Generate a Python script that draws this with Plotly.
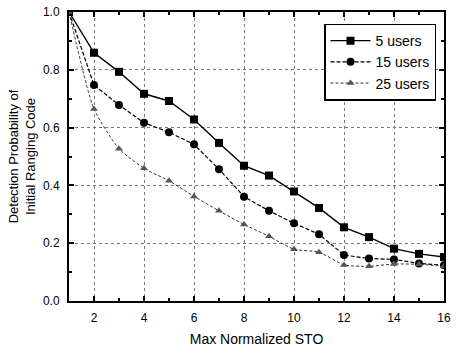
import plotly.graph_objects as go

x = list(range(1, 17))
users5 = [1.0, 0.859, 0.793, 0.717, 0.692, 0.628, 0.547, 0.468, 0.434, 0.379, 0.322, 0.255, 0.221, 0.181, 0.163, 0.152]
users15 = [1.0, 0.747, 0.678, 0.617, 0.584, 0.542, 0.456, 0.361, 0.312, 0.269, 0.231, 0.159, 0.147, 0.144, 0.130, 0.124]
users25 = [1.0, 0.664, 0.527, 0.459, 0.416, 0.362, 0.312, 0.265, 0.224, 0.179, 0.169, 0.125, 0.120, 0.128, 0.127, 0.120]
names = ["5 users", "15 users", "25 users"]

fig = go.Figure()
fig.add_trace(go.Scatter(x=x, y=users5, name=names[0], mode="lines+markers",
                         line=dict(color="black", width=1.4, dash="solid"),
                         marker=dict(symbol="square", size=8, color="black")))
fig.add_trace(go.Scatter(x=x, y=users15, name=names[1], mode="lines+markers",
                         line=dict(color="black", width=1.2, dash="4px,2px"),
                         marker=dict(symbol="circle", size=8, color="black")))
fig.add_trace(go.Scatter(x=x, y=users25, name=names[2], mode="lines+markers",
                         line=dict(color="#333333", width=1.0, dash="3px,2px", shape="spline", smoothing=0.6),
                         marker=dict(symbol="triangle-up", size=7, color="#555555")))

axis_common = dict(showline=True, linecolor="black", linewidth=2, mirror="ticks",
                   ticks="inside", ticklen=5, tickcolor="black", tickwidth=1.5,
                   showgrid=True, gridcolor="#777777", griddash="dot", gridwidth=1,
                   zeroline=False, ticklabeloverflow="allow", ticklabelstandoff=5,
                   tickfont=dict(family="Liberation Sans, Arial", size=12, color="black"))

fig.update_layout(
    width=456, height=350,
    margin=dict(l=69, r=5, t=10, b=48),
    paper_bgcolor="white", plot_bgcolor="white",
    font=dict(family="Liberation Sans, Arial", color="black"),
    xaxis=dict(range=[1, 16], tickvals=[2, 4, 6, 8, 10, 12, 14, 16],
               minor=dict(tickvals=[3, 5, 7, 9, 11, 13, 15], ticks="inside", ticklen=3, tickcolor="black", showgrid=False),
               title=dict(text="Max Normalized STO", font=dict(size=14), standoff=10),
               **axis_common),
    yaxis=dict(range=[0, 1.0], tickvals=[0.0, 0.2, 0.4, 0.6, 0.8, 1.0], tickformat=".1f",
               minor=dict(tickvals=[0.1, 0.3, 0.5, 0.7, 0.9], ticks="inside", ticklen=3, tickcolor="black", showgrid=False),
               title=dict(text="Detection Probability of<br>Initial Ranging Code", font=dict(size=13), standoff=4),
               **axis_common),
    legend=dict(x=0.68, y=0.96, xanchor="left", yanchor="top",
                bgcolor="white", bordercolor="black", borderwidth=1.5,
                font=dict(size=14), itemwidth=40, tracegroupgap=0),
    showlegend=True,
)

fig.write_html("out.html", config={"displayModeBar": False},
               post_script="document.body.style.margin='0';")
